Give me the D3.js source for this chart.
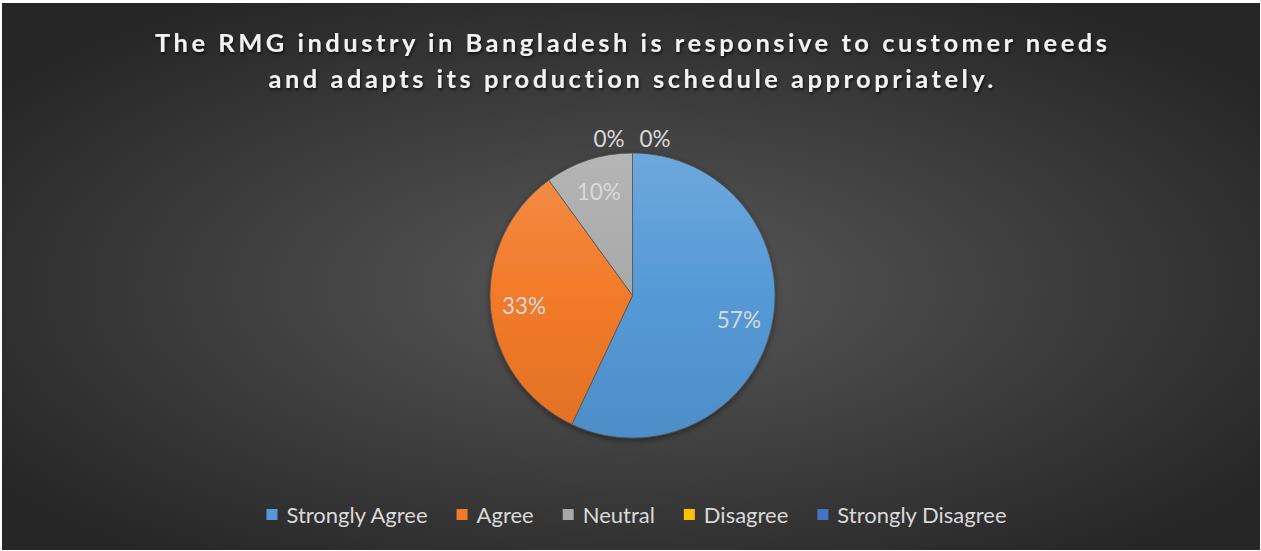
<!DOCTYPE html>
<html>
<head>
<meta charset="utf-8">
<script src="https://cdn.jsdelivr.net/npm/d3@7"></script>
<style>
  html, body { margin: 0; padding: 0; background: #ffffff; }
  svg { display: block; }
</style>
</head>
<body>
<svg id="chart" width="1261" height="551"></svg>
<script>
// Survey responses (percent of respondents)
const categories = ["Strongly Agree", "Agree", "Neutral", "Disagree", "Strongly Disagree"];
const values = [57, 33, 10, 0, 0];
const colors = ["#5499D6", "#F27A29", "#A8A8A8", "#FFC000", "#4472C4"];
const titleLines = [
  "The RMG industry in Bangladesh is responsive to customer needs",
  "and adapts its production schedule appropriately."
];

const W = 1261, H = 551;
const svg = d3.select("#chart");
const defs = svg.append("defs");
const FONT = "Lato, 'Open Sans', 'DejaVu Sans', sans-serif";

// Dark radial background of the chart area
const bg = defs.append("radialGradient").attr("id", "bgGrad")
  .attr("cx", "50%").attr("cy", "52%").attr("r", "62%");
bg.append("stop").attr("offset", "0%").attr("stop-color", "#585858");
bg.append("stop").attr("offset", "100%").attr("stop-color", "#262626");

svg.append("rect")
  .attr("x", 2).attr("y", 3).attr("width", W - 3).attr("height", H - 4)
  .attr("fill", "url(#bgGrad)");

// Soft shadow for the title
const sh = defs.append("filter").attr("id", "titleShadow")
  .attr("x", "-5%").attr("y", "-30%").attr("width", "110%").attr("height", "160%");
sh.append("feDropShadow").attr("dx", 1).attr("dy", 2).attr("stdDeviation", 1.5)
  .attr("flood-color", "#000").attr("flood-opacity", 0.7);

// Soft shadow under the pie
const ps = defs.append("filter").attr("id", "pieShadow")
  .attr("x", "-10%").attr("y", "-10%").attr("width", "120%").attr("height", "120%");
ps.append("feDropShadow").attr("dx", 0).attr("dy", 2).attr("stdDeviation", 3)
  .attr("flood-color", "#000").attr("flood-opacity", 0.45);

// Title, letter-spaced so the first line spans the chart width
const titleTarget = 952;
const titleG = svg.append("g").attr("filter", "url(#titleShadow)");
const t0 = titleG.append("text")
  .attr("font-family", FONT).attr("font-weight", 700).attr("font-size", 25.5)
  .text(titleLines[0]);
const natural = t0.node().getComputedTextLength();
const spacing = (titleTarget - natural) / (titleLines[0].length - 1);
t0.remove();
titleLines.forEach((line, i) => {
  titleG.append("text")
    .attr("x", 631 + spacing / 2).attr("y", 52 + i * 36)
    .attr("text-anchor", "middle")
    .attr("font-family", FONT).attr("font-weight", 700).attr("font-size", 25.5)
    .attr("letter-spacing", spacing)
    .attr("fill", "#f2f2f2")
    .text(line);
});

// Pie
const cx = 632.5, cy = 295.5, radius = 142.5;
const data = categories.map((c, i) => ({ name: c, value: values[i], color: colors[i] }));

const pie = d3.pie().value(d => d.value).sort(null);
const arcs = pie(data);
const arc = d3.arc().innerRadius(0).outerRadius(radius);
const labelArc = d3.arc().innerRadius(109).outerRadius(109);

// Vertical gradient per slice: tinted at top, base colour mid-way, shaded at bottom
data.forEach((d, i) => {
  const g = defs.append("linearGradient").attr("id", "slice" + i)
    .attr("gradientUnits", "userSpaceOnUse")
    .attr("x1", 0).attr("y1", -radius).attr("x2", 0).attr("y2", radius);
  const c = d3.color(d.color);
  const top = d3.interpolateRgb(c, "#ffffff")(0.15);
  const bot = d3.interpolateRgb(c, "#000000")(0.07);
  g.append("stop").attr("offset", "0%").attr("stop-color", top);
  g.append("stop").attr("offset", "50%").attr("stop-color", c.formatHex());
  g.append("stop").attr("offset", "100%").attr("stop-color", bot);
});

const pg = svg.append("g").attr("transform", `translate(${cx},${cy})`);
pg.append("g").attr("filter", "url(#pieShadow)")
  .selectAll("path.slice")
  .data(arcs.filter(a => a.data.value > 0))
  .join("path")
  .attr("class", "slice")
  .attr("d", arc)
  .attr("fill", a => `url(#slice${a.index})`)
  .attr("stroke", "#505050")
  .attr("stroke-width", 0.75);

// Data labels
const total = d3.sum(values);
const zeroArcs = arcs.filter(a => a.data.value === 0);
pg.selectAll("text.label")
  .data(arcs)
  .join("text")
  .attr("class", "label")
  .attr("font-family", FONT).attr("font-size", 22.5)
  .attr("fill", "#d9d9d9")
  .attr("dominant-baseline", "central")
  .attr("text-anchor", a => {
    if (a.data.value > 0) return "middle";
    return zeroArcs.indexOf(a) === 0 ? "end" : "start";
  })
  .attr("transform", a => {
    if (a.data.value > 0) {
      const [x, y] = labelArc.centroid(a);
      return `translate(${x},${y})`;
    }
    const k = zeroArcs.indexOf(a);
    const ang = a.startAngle;
    const rr = radius + 15;
    const x = Math.sin(ang) * rr + (k === 0 ? -8 : 7);
    const y = -Math.cos(ang) * rr;
    return `translate(${x},${y})`;
  })
  .text(a => Math.round(a.data.value / total * 100) + "%");

// Legend, centred below the pie
const legendFont = 22, sq = 11, sqGap = 9, itemGap = 29;
const lg = svg.append("g");
const items = lg.selectAll("g.item").data(data).join("g").attr("class", "item");
items.append("rect")
  .attr("width", sq).attr("height", sq)
  .attr("y", 509)
  .attr("fill", d => d.color);
items.append("text")
  .attr("font-family", FONT).attr("font-size", legendFont)
  .attr("fill", "#d9d9d9")
  .attr("y", 523)
  .text(d => d.name);
const widths = [];
items.each(function () { widths.push(d3.select(this).select("text").node().getComputedTextLength()); });
const totalW = d3.sum(widths.map(w => sq + sqGap + w)) + itemGap * (widths.length - 1);
let xPos = 636.5 - totalW / 2;
items.each(function (d, i) {
  const g = d3.select(this);
  g.select("rect").attr("x", xPos);
  g.select("text").attr("x", xPos + sq + sqGap);
  xPos += sq + sqGap + widths[i] + itemGap;
});
</script>
</body>
</html>
